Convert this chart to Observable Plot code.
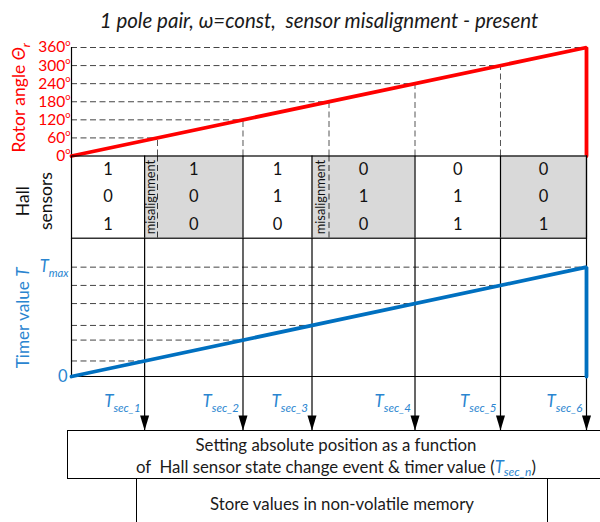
<!DOCTYPE html>
<html><head><meta charset="utf-8">
<script src="https://cdn.jsdelivr.net/npm/d3@7"></script>
<script src="https://cdn.jsdelivr.net/npm/@observablehq/plot@0.6"></script>
<style>
html,body{margin:0;padding:0;background:#fff;overflow:hidden;}
#wrap{position:relative;width:600px;height:522px;font-family:Lato,"Open Sans",sans-serif;overflow:hidden;}
.title{position:absolute;top:8px;left:0;width:638px;text-align:center;font-style:italic;font-size:20.5px;color:#1a1a1a;white-space:pre;}
.box{position:absolute;border:1.3px solid #000;box-sizing:border-box;text-align:center;font-size:16.8px;line-height:22px;color:#1a1a1a;white-space:pre;}
.tsub{font-style:italic;color:#2a85d0;}
.tsub sub{font-size:12px;vertical-align:-3px;}
</style></head><body>
<div id="wrap">
  <div class="title">1 pole pair, <i>ω</i>=const,  sensor misalignment - present</div>
  <div class="box" style="left:67px;top:429.5px;width:538px;height:49.5px;padding-top:3px;">Setting absolute position as a function
of  Hall sensor state change event &amp; timer value (<span class="tsub">T<sub>sec_n</sub></span>)</div>
  <div class="box" style="left:136px;top:478px;width:412px;height:60px;padding-top:13.5px;">Store values in non-volatile memory</div>
</div>
<script>
// ---------- data (time axis in timer counts, 0..TMAX) ----------
const TMAX = 1000;
const timerAxisTop = 1262;                          // timer panel headroom above Tmax
const angleTicks = [0, 60, 120, 180, 240, 300, 360];
const angleTimes = [0, 167, 333, 500, 667, 833, 1000];   // time at which rotor reaches each angle
const hallEventTimes = [142, 333, 467, 667, 833, 1000];  // Hall state change events
const hallSectorStart = [0, 142, 333, 467, 667, 833];
const hallSensorA = [1, 1, 1, 0, 0, 0];
const hallSensorB = [0, 0, 1, 1, 1, 0];
const hallSensorC = [1, 0, 0, 0, 1, 1];
const sectorShaded = [false, true, false, true, false, true];
const misalignFrom = [142, 467];
const misalignTo = [167, 500];
const timerValues = [142, 333, 467, 667, 833, 1000];     // T_sec_n
const timerLabels = ["sec_1", "sec_2", "sec_3", "sec_4", "sec_5", "sec_6"];
const rotorTime = [0, 1000, 1000];
const rotorAngle = [0, 360, 0];
const timerTime = [0, 1000, 1000];
const timerCount = [0, 1000, 0];

const RED = "#ff0000", BLUE = "#0070c0", BLUE_TXT = "#2a85d0", GRAY = "#d9d9d9";
const DASH = "6,3.5";

const angleRows = angleTicks.map((a, i) => ({angle: a, t: angleTimes[i]}));
const rotorRows = rotorTime.map((t, i) => ({t, angle: rotorAngle[i]}));
const hallRows = hallSectorStart.map((s, i) => ({start: s, end: hallEventTimes[i], shaded: sectorShaded[i],
  bits: [hallSensorA[i], hallSensorB[i], hallSensorC[i]]}));
const hallCells = hallRows.flatMap(r => r.bits.map((b, j) => ({t: (r.start + r.end) / 2, row: j + 0.5, bit: b})));
const misalignRows = misalignFrom.map((f, i) => ({from: f, to: misalignTo[i]}));
const idealOnly = angleTimes.filter(t => t > 0 && !hallEventTimes.includes(t));
const timerRows = hallEventTimes.map((t, i) => ({t, T: timerValues[i], label: timerLabels[i]}));
const timerPath = timerTime.map((t, i) => ({t, T: timerCount[i]}));

const arrowHead = {draw(ctx) { ctx.moveTo(-4.5, -15); ctx.lineTo(4.5, -15); ctx.lineTo(0, 0); ctx.closePath(); }};

const base = {width: 600, marginLeft: 71, marginRight: 14,
  style: {background: "transparent", overflow: "visible", fontFamily: "Lato, 'Open Sans', sans-serif"}};

// ---------- Panel A: rotor angle ----------
const plotA = Plot.plot({...base, height: 130, marginTop: 17, marginBottom: 4.5,
  x: {domain: [0, TMAX], axis: null}, y: {domain: [0, 360], axis: null},
  marks: [
    Plot.ruleY(angleRows.filter(d => d.angle > 0), {y: "angle", x1: 0, x2: "t", stroke: "#444", strokeDasharray: DASH}),
    Plot.ruleX(angleRows.filter(d => d.angle > 0 && d.angle < 360), {x: "t", y1: 0, y2: "angle", stroke: "#555", strokeDasharray: DASH}),
    Plot.ruleX([0], {y1: 0, y2: 360, stroke: "#000", strokeWidth: 1.2}),
    Plot.line(rotorRows, {x: "t", y: "angle", stroke: RED, strokeWidth: 3.8, strokeLinejoin: "miter"}),
    Plot.text(angleRows, {x: 0, y: "angle", text: d => `${d.angle}^{o}`, textAnchor: "end", dx: -1, fill: RED, fontSize: 15.5}),
    Plot.text(["Rotor angle *Θ*_{r}"], {frameAnchor: "left", textAnchor: "middle", dx: -52, dy: -4, rotate: -90, fill: RED, fontSize: 17.5})
  ]});

// ---------- Panel B: Hall sensors ----------
const plotB = Plot.plot({...base, height: 95, marginTop: 5.5, marginBottom: 7.3,
  x: {domain: [0, TMAX], axis: null}, y: {domain: [0, 3], reverse: true, axis: null},
  marks: [
    Plot.rect(hallRows.filter(d => d.shaded), {x1: "start", x2: "end", y1: 0, y2: 3, fill: GRAY}),
    Plot.ruleX(idealOnly, {stroke: "#333", strokeDasharray: DASH}),
    Plot.ruleX(hallEventTimes, {stroke: "#000", strokeWidth: 1.2}),
    Plot.frame({stroke: "#000", strokeWidth: 1.2}),
    Plot.text(hallCells, {x: "t", y: "row", text: d => String(d.bit), fill: "#111", fontSize: 16.5}),
    Plot.text(misalignRows, {x: d => (d.from + d.to) / 2, y: 1.5, text: () => "misalignment", rotate: -90, fill: "#111", fontSize: 12.8}),
    Plot.text(["Hall"], {frameAnchor: "left", textAnchor: "middle", dx: -48, dy: 4, rotate: -90, fill: "#111", fontSize: 17.5}),
    Plot.text(["sensors"], {frameAnchor: "left", textAnchor: "middle", dx: -25, dy: 4, rotate: -90, fill: "#111", fontSize: 17.5})
  ]});

// ---------- Panel C: timer value + event arrows ----------
const plotC = Plot.plot({...base, height: 210, marginTop: 8, marginBottom: 10,
  x: {domain: [0, TMAX], axis: null}, y: {domain: [0, timerAxisTop], range: [146, 8], axis: null},
  marks: [
    Plot.ruleY(timerRows, {y: "T", x1: 0, x2: "t", stroke: "#444", strokeDasharray: DASH}),
    Plot.ruleX(hallEventTimes, {stroke: "#000", strokeWidth: 1.2}),
    Plot.ruleX([0], {y1: 0, y2: timerAxisTop, stroke: "#000", strokeWidth: 1.2}),
    Plot.ruleY([0], {stroke: "#000", strokeWidth: 1.2}),
    Plot.line(timerPath, {x: "t", y: "T", stroke: BLUE, strokeWidth: 3.8, strokeLinejoin: "miter"}),
    Plot.dot(hallEventTimes, {x: d => d, frameAnchor: "bottom", symbol: arrowHead, r: 5, fill: "#000", stroke: "none"}),
    Plot.text(timerRows, {x: "t", frameAnchor: "bottom", text: d => `*T*_{${d.label}}`, textAnchor: "end", lineAnchor: "bottom", dx: -4, dy: -24, fill: BLUE_TXT, fontSize: 17}),
    Plot.text(["0"], {x: 0, y: 0, textAnchor: "end", dx: -4, fill: BLUE_TXT, fontSize: 16.5}),
    Plot.text(["*T*_{max}"], {x: 0, y: TMAX, textAnchor: "end", dx: -3, fill: BLUE_TXT, fontSize: 16.5}),
    Plot.text(["Timer value *T*"], {frameAnchor: "left", textAnchor: "middle", y: TMAX / 2, dx: -48, dy: -4, rotate: -90, fill: BLUE_TXT, fontSize: 17.2})
  ]});

const wrap = document.getElementById("wrap");
[[plotA, 30], [plotB, 150], [plotC, 230]].forEach(([el, top]) => {
  el.style.position = "absolute"; el.style.left = "0px"; el.style.top = top + "px";
  wrap.insertBefore(el, wrap.querySelector(".box"));
});

// rich text: *italic*, _{subscript}, ^{superscript}
function rich(root) {
  const re = /(\*[^*]+\*|_\{[^}]*\}|\^\{[^}]*\})/;
  root.querySelectorAll("text").forEach(t => {
    const s = t.textContent;
    if (!re.test(s)) return;
    const fs = parseFloat(getComputedStyle(t).fontSize) || 15;
    t.textContent = "";
    let shift = 0;
    for (const part of s.split(re)) {
      if (!part) continue;
      const ts = document.createElementNS("http://www.w3.org/2000/svg", "tspan");
      let target = 0, text = part, size = null, italic = false;
      if (part[0] === "*") { text = part.slice(1, -1); italic = true; }
      else if (part.startsWith("_{")) { text = part.slice(2, -1); size = fs * 0.68; italic = true; target = fs * 0.3; }
      else if (part.startsWith("^{")) { text = part.slice(2, -1); size = fs * 0.6; target = -fs * 0.42; }
      ts.textContent = text;
      if (italic) ts.setAttribute("font-style", "italic");
      if (size) ts.setAttribute("font-size", size);
      if (target !== shift) { ts.setAttribute("dy", target - shift); shift = target; }
      t.appendChild(ts);
    }
  });
}
rich(wrap);
</script>
</body></html>
